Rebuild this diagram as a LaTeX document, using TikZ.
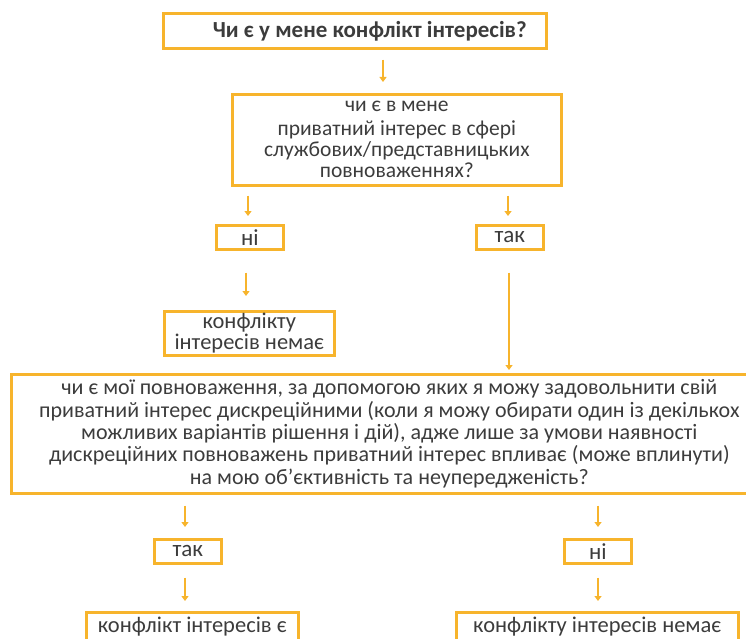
\documentclass[tikz,border=0pt]{standalone}
\usepackage{fontspec}
\setmainfont{Carlito}
\usetikzlibrary{arrows.meta,calc}
\definecolor{ora}{HTML}{F7B42C}
\definecolor{txt}{HTML}{3C3C3C}
\newcommand{\fs}[2]{\fontsize{#1}{#2}\selectfont}
\tikzset{
  box/.style={draw=ora, line width=2.6pt, rectangle, anchor=north west, inner sep=0pt, text=txt, align=center},
  arr/.style={draw=ora, line width=1.3pt, -{Triangle[width=7pt,length=5pt]}},
}
\begin{document}
\begin{tikzpicture}[x=1pt,y=-1pt]
\useasboundingbox (0,0) rectangle (746,639);
\node[box, minimum width=383pt, minimum height=35pt, font=\fs{23}{26}] (b1) at (162,12) {\hspace*{30pt}\bfseries Чи є у мене конфлікт інтересів?};
\node[box, minimum width=329pt, minimum height=91pt, font=\fs{21.5}{21}] (b2) at (231,93) {чи є в мене\\[3pt]приватний інтерес  в сфері\\службових/представницьких\\повноваженнях?};
\node[box, minimum width=67pt, minimum height=24pt, font=\fs{23}{24}] (ni1) at (215,224) {ні};
\node[box, minimum width=67pt, minimum height=24pt, font=\fs{23}{24}] (tak1) at (475,224) {так};
\node[box, minimum width=170pt, minimum height=44pt, font=\fs{22.5}{20.5}] (nem1) at (163,310) {конфлікту\\інтересів немає};
\node[box, minimum width=756pt, minimum height=119pt, font=\fs{22}{22.3}] (big) at (10,373) {чи є мої повноваження, за допомогою яких я можу задовольнити свій\\приватний інтерес дискреційними (коли я можу обирати один із декількох\\можливих варіантів рішення і дій), адже лише за умови наявності\\дискреційних повноважень приватний інтерес впливає (може вплинути)\\на мою об’єктивність та неупередженість?};
\node[box, minimum width=67pt, minimum height=24pt, font=\fs{23}{24}] (tak2) at (153,538) {так};
\node[box, minimum width=67pt, minimum height=24pt, font=\fs{23}{24}] (ni2) at (563,538) {ні};
\node[box, minimum width=212pt, minimum height=29pt, font=\fs{22.5}{24}] (ye) at (85,611) {конфлікт інтересів є};
\node[box, minimum width=282pt, minimum height=29pt, font=\fs{22.5}{24}] (nem2) at (455,611) {конфлікту інтересів немає};

\draw[arr] ($(b1.south -| 383,0)+(0,10)$) -- ($(b2.north -| 383,0)+(0,-11)$);
\draw[arr] ($(b2.south -| 248,0)+(0,9)$) -- ($(ni1.north -| 248,0)+(0,-8)$);
\draw[arr] ($(b2.south -| 508,0)+(0,9)$) -- ($(tak1.north -| 508,0)+(0,-8)$);
\draw[arr] ($(ni1.south -| 246,0)+(0,22)$) -- ($(nem1.north -| 246,0)+(0,-14)$);
\draw[arr] ($(tak1.south -| 509,0)+(0,22)$) -- ($(big.north -| 509,0)+(0,-3)$);
\draw[arr] ($(big.south -| 185,0)+(0,11)$) -- ($(tak2.north -| 185,0)+(0,-11)$);
\draw[arr] ($(big.south -| 598,0)+(0,11)$) -- ($(ni2.north -| 598,0)+(0,-11)$);
\draw[arr] ($(tak2.south -| 185,0)+(0,13)$) -- ($(ye.north -| 185,0)+(0,-10)$);
\draw[arr] ($(ni2.south -| 598,0)+(0,13)$) -- ($(nem2.north -| 598,0)+(0,-10)$);
\end{tikzpicture}
\end{document}
